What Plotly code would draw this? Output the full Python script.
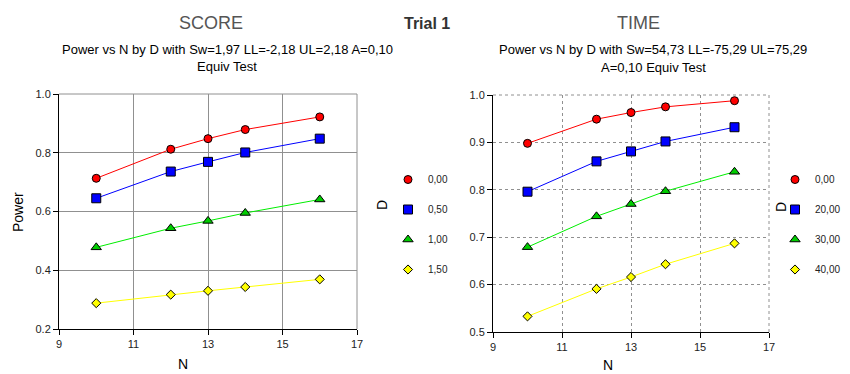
import plotly.graph_objects as go

# ---- data ----
N = [10, 12, 13, 14, 16]
d_labels_score = ["0,00", "0,50", "1,00", "1,50"]
d_labels_time = ["0,00", "20,00", "30,00", "40,00"]
score_d000 = [0.713, 0.812, 0.848, 0.879, 0.922]
score_d050 = [0.645, 0.736, 0.769, 0.801, 0.848]
score_d100 = [0.478, 0.543, 0.568, 0.595, 0.641]
score_d150 = [0.288, 0.317, 0.330, 0.343, 0.369]
time_d00 = [0.898, 0.949, 0.963, 0.975, 0.988]
time_d20 = [0.796, 0.860, 0.881, 0.902, 0.932]
time_d30 = [0.679, 0.744, 0.770, 0.797, 0.838]
time_d40 = [0.533, 0.591, 0.616, 0.643, 0.687]
x_ticks = [9, 11, 13, 15, 17]
score_yticks = [0.2, 0.4, 0.6, 0.8, 1.0]
time_yticks = [0.5, 0.6, 0.7, 0.8, 0.9, 1.0]

line_colors = ["#ff0000", "#0000ff", "#00ee00", "#ffff00"]
fill_colors = ["#ff0000", "#0000ff", "#00cc00", "#ffff00"]
symbols = ["circle", "square", "triangle-up", "diamond"]
sizes = [8, 9, 9, 7]

FONT = "Liberation Sans, Arial, sans-serif"

fig = go.Figure()

def add_series(xa, ya, legend, ys, labels):
    for i, (yv, lab) in enumerate(zip(ys, labels)):
        fig.add_trace(go.Scatter(
            x=N, y=yv, mode="lines", xaxis=xa, yaxis=ya,
            line=dict(color=line_colors[i], width=1), showlegend=False,
            hoverinfo="skip"))
        fig.add_trace(go.Scatter(
            x=N, y=yv, mode="markers", xaxis=xa, yaxis=ya, name=lab,
            legend=legend, legendgroup=legend + str(i),
            marker=dict(symbol=symbols[i], size=sizes[i], color=fill_colors[i],
                        line=dict(color="black", width=1))))

add_series("x", "y", "legend", [score_d000, score_d050, score_d100, score_d150], d_labels_score)
add_series("x2", "y2", "legend2", [time_d00, time_d20, time_d30, time_d40], d_labels_time)

W, H = 850, 374
OFF = 8  # page body margin offset
def px(v): return (v - OFF) / W
def py(v): return 1 - (v - OFF) / H

axis_common = dict(showline=True, linecolor="black", linewidth=1, ticks="outside",
                   ticklen=5, tickcolor="black", tickfont=dict(family=FONT, size=11, color="#222"),
                   zeroline=False, showgrid=True)

fig.update_layout(
    width=W, height=H, margin=dict(l=0, r=0, t=0, b=0, autoexpand=False),
    paper_bgcolor="white", plot_bgcolor="white",
    font=dict(family=FONT, color="black"),
    xaxis=dict(domain=[px(59), px(357)], range=[9, 17], tickvals=x_ticks, anchor="y",
               gridcolor="#909090", **axis_common),
    yaxis=dict(domain=[py(329), py(94)], range=[0.2, 1.0], tickvals=score_yticks,
               tickformat=".1f", anchor="x", gridcolor="#909090", **axis_common),
    xaxis2=dict(domain=[px(493), px(769)], range=[9, 17], tickvals=x_ticks, anchor="y2",
                gridcolor="#909090", griddash="dot", **axis_common),
    yaxis2=dict(domain=[py(332), py(95)], range=[0.5, 1.0], tickvals=time_yticks,
                tickformat=".1f", anchor="x2", gridcolor="#909090", griddash="dot", **axis_common),
    legend=dict(x=px(388), y=py(165), xanchor="left", yanchor="top", tracegroupgap=11,
                font=dict(family=FONT, size=10, color="#222"), bgcolor="rgba(0,0,0,0)"),
    legend2=dict(x=px(775), y=py(165), xanchor="left", yanchor="top", tracegroupgap=11,
                 font=dict(family=FONT, size=10, color="#222"), bgcolor="rgba(0,0,0,0)"),
)

# gray top/right borders
for xr, yr, dash in [("x domain", "y domain", "solid"), ("x2 domain", "y2 domain", "dot")]:
    fig.add_shape(type="line", xref=xr, yref=yr, x0=0, x1=1, y0=1, y1=1,
                  line=dict(color="#909090", width=1, dash=dash))
    fig.add_shape(type="line", xref=xr, yref=yr, x0=1, x1=1, y0=0, y1=1,
                  line=dict(color="#909090", width=1, dash=dash))

def ann(text, x, y, size, color="black", bold=False, angle=0):
    if bold:
        text = "<b>" + text + "</b>"
    fig.add_annotation(text=text, x=px(x), y=py(y), xref="paper", yref="paper",
                       showarrow=False, xanchor="center", yanchor="middle", textangle=angle,
                       font=dict(family=FONT, size=size, color=color))

ann("SCORE", 211, 23, 18, "#555555")
ann("TIME", 638, 23, 18, "#555555")
ann("Trial 1", 427, 24, 16, "#333333", bold=True)
ann("Power vs N by D with Sw=1,97 LL=-2,18 UL=2,18 A=0,10", 227, 49, 13)
ann("Equiv Test", 227, 67, 13)
ann("Power vs N by D with Sw=54,73 LL=-75,29 UL=75,29", 653, 49, 13)
ann("A=0,10 Equiv Test", 653, 68, 13)
ann("Power", 18, 212, 14, angle=-90)
ann("N", 183, 364, 14)
ann("N", 608, 365, 14)
ann("D", 382, 205, 14, angle=-90)
ann("D", 781, 207, 14, angle=-90)

fig.write_html("out.html")
